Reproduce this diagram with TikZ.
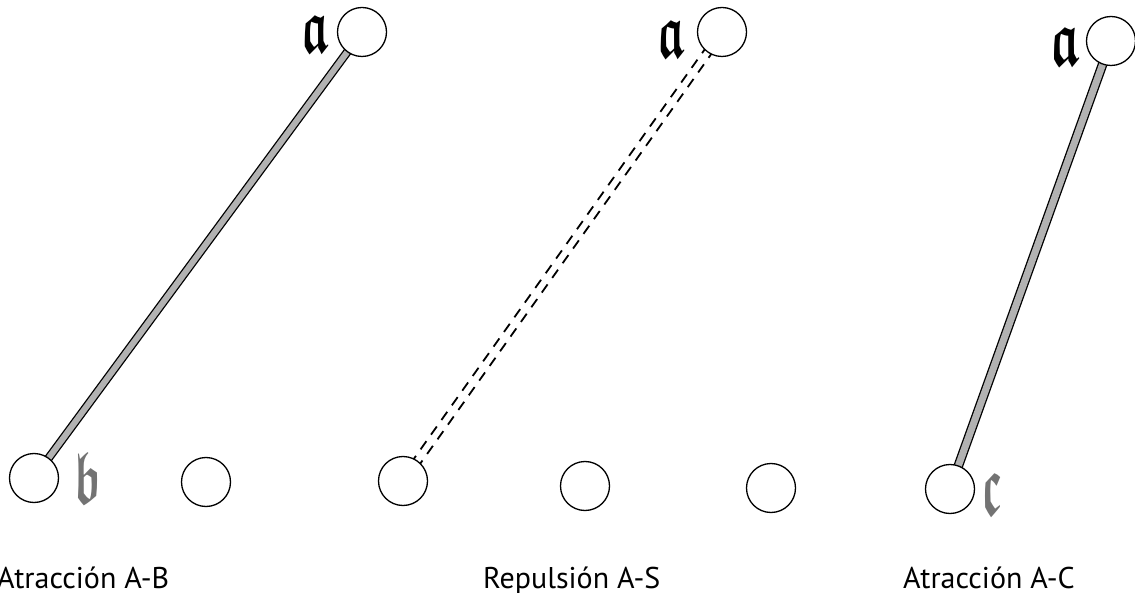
\documentclass[tikz,border=0pt]{standalone}
\usepackage{amssymb,bm,graphicx}
\usepackage{fontspec}
\setmainfont{PT Sans}
\usetikzlibrary{calc,backgrounds}

\tikzset{
  ball/.style={circle,draw,line width=1.3pt,fill=white,minimum size=49pt,inner sep=0pt},
  stem/.style={line width=1.3pt,double=gray!60,double distance=6pt},
  repel/.style={line width=1.8pt,dash pattern=on 10pt off 8pt},
  caption/.style={font=\fontsize{30}{36}\selectfont,anchor=base west,inner sep=0pt},
  letter/.style={inner sep=0pt}
}

\begin{document}
\begin{tikzpicture}[x=1pt,y=-1pt]
\useasboundingbox (0,0) rectangle (1135,593);
% attraction panel (left)
\begin{scope}
\node[ball] (a1) at (362,32) {};
\node[ball] (b1) at (34,478) {};
\node[ball] (n1) at (206,482) {};
\node[letter] (la1) at (315,34) {\resizebox{28pt}{37pt}{$\bm{\mathfrak{a}}$}};
\node[letter,text=black!55] (lb1) at (88,478) {\resizebox{27pt}{51pt}{$\bm{\mathfrak{b}}$}};
\begin{scope}[on background layer]
\draw[stem] (b1.center) -- (a1.center);
\end{scope}
\node[caption] (t1) at (-3,588) {Atracción A-B};
\end{scope}
% repulsion panel (middle)
\begin{scope}
\node[ball] (a2) at (722,32) {};
\node[ball] (s1) at (403,481) {};
\node[ball] (n2) at (585,486) {};
\node[ball] (n3) at (771,488) {};
\node[letter] (la2) at (671,39) {\resizebox{28pt}{37pt}{$\bm{\mathfrak{a}}$}};
\coordinate (r1s) at ($(s1.center)!4pt!90:(a2.center)$);
\coordinate (r1e) at ($(a2.center)!4pt!-90:(s1.center)$);
\coordinate (r2s) at ($(s1.center)!4pt!-90:(a2.center)$);
\coordinate (r2e) at ($(a2.center)!4pt!90:(s1.center)$);
\begin{scope}[on background layer]
\draw[repel] (r1s) -- (r1e);
\draw[repel] (r2s) -- (r2e);
\end{scope}
\node[caption] (t2) at (483,588) {Repulsión A-S};
\end{scope}
% attraction panel (right)
\begin{scope}
\node[ball] (a3) at (1111,41) {};
\node[ball] (c1) at (950,489) {};
\node[letter] (la3) at (1065,46) {\resizebox{30pt}{38pt}{$\bm{\mathfrak{a}}$}};
\node[letter,text=black!55] (lc1) at (992,494) {\resizebox{21pt}{42pt}{$\bm{\mathfrak{c}}$}};
\begin{scope}[on background layer]
\draw[stem,double distance=7pt] (c1.center) -- (a3.center);
\end{scope}
\node[caption] (t3) at (903,588) {Atracción A-C};
\end{scope}
\end{tikzpicture}
\end{document}
